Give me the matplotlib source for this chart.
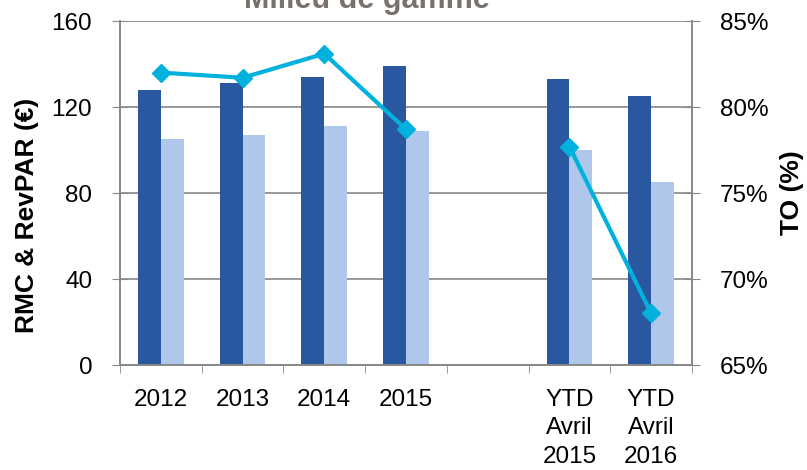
import numpy as np
import matplotlib.pyplot as plt

plt.rcParams['font.family'] = ['Liberation Sans', 'DejaVu Sans']

# DONNEES
categories = ['2012', '2013', '2014', '2015', '', 'YTD\nAvril\n2015', 'YTD\nAvril\n2016']
rmc = [128, 131, 134, 139, np.nan, 133, 125]
revpar = [105, 107, 111, 109, np.nan, 100, 85]
to = [82.0, 81.7, 83.1, 78.7, np.nan, 77.7, 68.0]

gris = '#888888'
bleu_fonce = '#2A58A0'
bleu_clair = '#AEC7EB'
cyan = '#00B0DD'

fig = plt.figure(figsize=(8.07, 4.70), dpi=100)
ax = fig.add_axes([0.1487, 0.2234, 0.7088, 0.7319])
ax2 = ax.twinx()

x = np.arange(len(categories))
w = 0.28
ax.bar(x - w/2, rmc, width=w, color=bleu_fonce, zorder=2)
ax.bar(x + w/2, revpar, width=w, color=bleu_clair, zorder=2)

ax.set_ylim(0, 160)
ax.set_yticks([0, 40, 80, 120, 160])
ax.set_xlim(-0.5, len(categories) - 0.5)
ax.set_xticks(x)
ax.set_xticklabels(categories, fontsize=17.5, va='top', linespacing=1.4)
ax.set_xticks(np.arange(len(categories) + 1) - 0.5, minor=True)
ax.tick_params(axis='x', which='major', length=0, pad=17)
ax.tick_params(axis='x', which='minor', length=6, color=gris, direction='out')
ax.tick_params(axis='y', labelsize=17.5, length=12, color=gris, direction='inout', pad=14)
ax.grid(axis='y', color=gris, linewidth=1.2, zorder=0)
ax.set_axisbelow(True)
ax.set_ylabel('RMC & RevPAR (€)', fontsize=19, fontweight='bold')
ax.yaxis.set_label_coords(-0.142, 0.436)

ax2.plot(x, to, color=cyan, linewidth=3, marker='D', markersize=9, zorder=3)
ax2.set_ylim(65, 85)
ax2.set_yticks([65, 70, 75, 80, 85])
ax2.set_yticklabels([f'{v}%' for v in [65, 70, 75, 80, 85]])
ax2.tick_params(axis='y', labelsize=17.5, length=12, color=gris, direction='inout', pad=14)
ax2.set_ylabel('TO (%)', fontsize=19, fontweight='bold', labelpad=8)

for a in (ax, ax2):
    for s in a.spines.values():
        s.set_color(gris)
        s.set_linewidth(1.2)
ax.spines['top'].set_visible(False)
ax2.spines['top'].set_visible(False)

fig.text(0.455, 1.0, 'Milieu de gamme', fontsize=22, fontweight='bold', color='#7A716C',
         ha='center', va='center')

plt.savefig('out.png', dpi=100)
